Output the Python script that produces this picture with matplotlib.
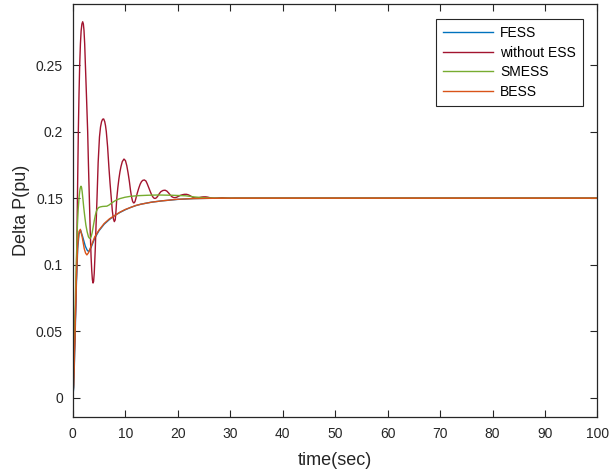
import numpy as np
import matplotlib
matplotlib.use('Agg')
import matplotlib.pyplot as plt

# Frequency deviation response, read at the turning points of each curve
t_fess = [0, 0.2, 0.45, 0.7, 0.95, 1.2, 1.5, 1.9, 2.4, 2.75, 3.05, 3.5, 4.2, 5, 6, 7, 8, 9,
          10, 11, 12, 13, 15, 17, 20, 23, 26, 30, 100]
p_fess = [0, 0.008, 0.045, 0.085, 0.112, 0.123, 0.126, 0.121, 0.114, 0.111, 0.1098, 0.113,
          0.12, 0.1255, 0.1305, 0.134, 0.137, 0.1393, 0.1413, 0.143, 0.1444, 0.1455, 0.147,
          0.148, 0.1491, 0.1497, 0.1499, 0.15, 0.15]

t_noess = [0, 0.4, 0.7, 0.9, 1.07, 1.2, 1.33, 1.47, 1.6, 1.75, 1.9, 2.03, 2.15, 2.28, 2.4,
           2.62, 2.85, 3.0, 3.17, 3.33, 3.5, 3.63, 3.75, 3.87, 3.98, 4.1, 4.3, 4.45, 4.63,
           4.85, 5.1, 5.3, 5.5, 5.7, 5.9, 6.1, 6.25, 6.4, 6.65, 6.9, 7.12, 7.35, 7.55, 7.75,
           7.93, 8.1, 8.25, 8.4, 8.6, 8.8, 9.0, 9.2, 9.45, 9.77, 10.05, 10.3, 10.55, 10.8,
           11.0, 11.2, 11.4, 11.58, 11.75, 11.9, 12.05, 12.3, 12.6, 12.85, 13.1, 13.35,
           13.65, 13.95, 14.2, 14.5, 14.8, 15.05, 15.3, 15.5, 15.7, 15.95, 16.2, 16.5,
           16.8, 17.2, 17.6, 17.95, 18.3, 18.6, 18.9, 19.2, 19.5, 19.8, 20.1, 20.5, 20.9,
           21.3, 21.7, 22.05, 22.4, 22.7, 23.0, 23.3, 23.6, 23.95, 24.3, 24.65, 25.0, 25.35,
           25.7, 26.1, 26.5, 27.0, 27.5, 28.0, 28.5, 29.2, 30, 31, 32, 100]
p_noess = [0, 0.045, 0.09, 0.15, 0.2, 0.228, 0.25, 0.266, 0.2755, 0.2808, 0.2825, 0.2808,
           0.276, 0.266, 0.252, 0.227, 0.2, 0.175, 0.15, 0.126, 0.106, 0.0955, 0.0888,
           0.0863, 0.0875, 0.0935, 0.112, 0.13, 0.15, 0.177, 0.196, 0.2035, 0.2075, 0.2093,
           0.2095, 0.2075, 0.2045, 0.2, 0.1885, 0.173, 0.161, 0.15, 0.1405, 0.1345, 0.1324,
           0.1337, 0.1405, 0.15, 0.158, 0.1645, 0.1698, 0.1738, 0.1775, 0.1794, 0.1782,
           0.1745, 0.169, 0.1625, 0.1562, 0.1512, 0.1478, 0.1465, 0.1466, 0.1478, 0.15,
           0.1538, 0.1577, 0.1605, 0.1624, 0.1634, 0.1637, 0.1629, 0.1608, 0.1578, 0.1548,
           0.1524, 0.1508, 0.15, 0.1498, 0.1503, 0.1515, 0.1534, 0.1549, 0.1558, 0.156,
           0.1553, 0.1538, 0.1523, 0.1511, 0.1505, 0.1504, 0.1507, 0.1513, 0.1521, 0.1526,
           0.1529, 0.1529, 0.1525, 0.1518, 0.1511, 0.1505, 0.1502, 0.1501, 0.1503, 0.1506,
           0.1509, 0.151, 0.151, 0.1508, 0.1504, 0.1501, 0.1499, 0.15, 0.1502, 0.1503,
           0.1501, 0.1499, 0.15, 0.15, 0.15]

t_smess = [0, 0.3, 0.6, 0.9, 1.05, 1.2, 1.3, 1.4, 1.5, 1.58, 1.68, 1.8, 1.95, 2.1, 2.3, 2.5,
           2.75, 3.0, 3.2, 3.36, 3.52, 3.7, 3.9, 4.1, 4.3, 4.5, 4.7, 4.95, 5.3, 5.7, 6.1,
           6.5, 6.9, 7.3, 7.8, 8.3, 9.0, 9.96, 11.0, 12.5, 14.3, 16.3, 19, 21.5, 23, 24.2,
           25.5, 26.8, 28, 100]
p_smess = [0, 0.04, 0.09, 0.13, 0.142, 0.15, 0.1538, 0.157, 0.1585, 0.159, 0.1582, 0.155,
           0.1492, 0.143, 0.1362, 0.13, 0.1248, 0.121, 0.1199, 0.12, 0.1212, 0.124, 0.1285,
           0.133, 0.137, 0.14, 0.1418, 0.143, 0.1435, 0.1438, 0.1439, 0.144, 0.1448, 0.146,
           0.1474, 0.1486, 0.1497, 0.1507, 0.1514, 0.1519, 0.1522, 0.1524, 0.1522, 0.1518,
           0.151, 0.1506, 0.1503, 0.1501, 0.15, 0.15]

t_bess = [0, 0.2, 0.45, 0.7, 0.95, 1.2, 1.45, 1.8, 2.2, 2.45, 2.7, 3.0, 3.5, 4.2, 5, 6, 7, 8,
          9, 10, 11, 12, 13, 15, 17, 20, 23, 26, 30, 100]
p_bess = [0, 0.01, 0.05, 0.09, 0.115, 0.125, 0.1266, 0.121, 0.112, 0.1088, 0.1074, 0.109,
          0.114, 0.121, 0.126, 0.131, 0.1345, 0.137, 0.1395, 0.1415, 0.143, 0.1445, 0.1455,
          0.147, 0.148, 0.1492, 0.1497, 0.1499, 0.15, 0.15]

plt.rcParams['font.family'] = ['Liberation Sans', 'DejaVu Sans']

fig = plt.figure(figsize=(6.1, 4.74), dpi=100)
ax = fig.add_axes([0.1192, 0.1203, 0.9795 - 0.1192, 0.9926 - 0.1203])

ax.plot(t_fess, p_fess, color='#0072BD', lw=1.0, label='FESS')
ax.plot(t_noess, p_noess, color='#A2142F', lw=1.0, label='without ESS')
ax.plot(t_smess, p_smess, color='#77AC30', lw=1.0, label='SMESS')
ax.plot(t_bess, p_bess, color='#D95319', lw=1.0, label='BESS')

ax.set_xlim(0, 100)
ax.set_ylim(-0.0143, 0.2962)
ax.set_xticks(np.arange(0, 101, 10))
ax.set_yticks([0, 0.05, 0.1, 0.15, 0.2, 0.25])
ax.set_yticklabels(['0', '0.05', '0.1', '0.15', '0.2', '0.25'])
ax.tick_params(direction='in', length=5, width=0.8, top=True, right=True,
               labelsize=10, colors='#262626', pad=7)
for s in ax.spines.values():
    s.set_color('#262626')
    s.set_linewidth(0.9)

ax.set_xlabel('time(sec)', fontsize=13, color='#262626', labelpad=8)
ax.set_ylabel('Delta P(pu)', fontsize=13, color='#262626', labelpad=4)

leg = ax.legend(loc='upper right', bbox_to_anchor=(582.7 / 610, 1 - 19.3 / 474),
                bbox_transform=fig.transFigure, borderaxespad=0, fontsize=10,
                handlelength=3.6, handletextpad=0.5, labelspacing=0.4,
                borderpad=0.5, fancybox=False, framealpha=1)
leg.get_frame().set_edgecolor('#262626')
leg.get_frame().set_linewidth(0.8)

fig.savefig('out.png', dpi=100)
